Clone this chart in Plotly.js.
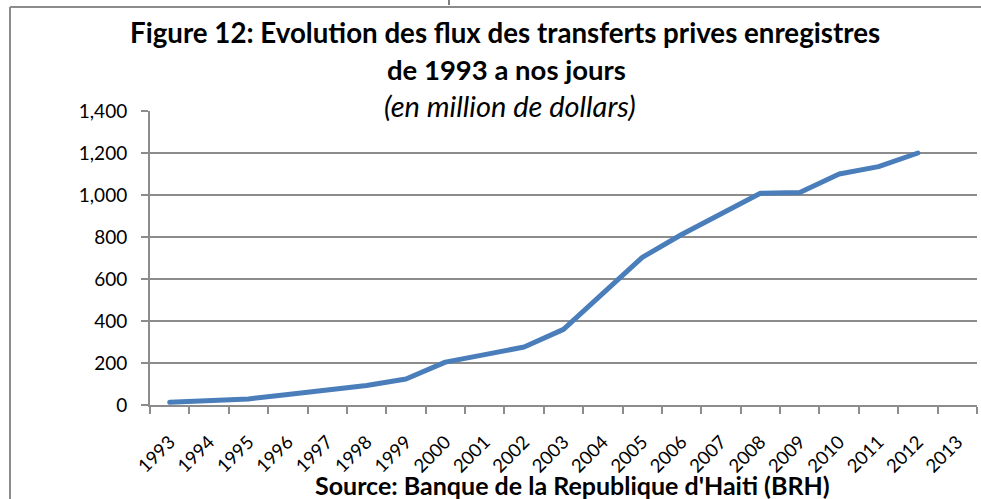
<!DOCTYPE html>
<html><head><meta charset="utf-8">
<script src="https://cdn.plot.ly/plotly-3.0.1.min.js"></script>
<style>html,body{margin:0;padding:0;background:#fff}#chart{width:981px;height:499px}
#chart path.js-line{stroke-linecap:round;stroke-linejoin:round}</style>
</head><body><div id="chart"></div>
<script>
const years = ['1993','1994','1995','1996','1997','1998','1999','2000','2001','2002','2003','2004','2005','2006','2007','2008','2009','2010','2011','2012','2013'];
const flows = [13,19,29,50,70,93,124,204,240,276,360,530,703,812,912,1008,1012,1100,1135,1200,null];
const yTicks = [0,200,400,600,800,1000,1200,1400];

const W=981,H=499,L=150,R=4,T=111,B=94;
const pw=W-L-R, ph=H-T-B;
const px=p=>(p-L)/pw, py=q=>(H-B-q)/ph;
const grey='#8c8c8c';
const fam='Lato, "Open Sans", sans-serif';

const trace={x:years,y:flows,type:'scatter',mode:'lines',
  line:{color:'#4a7ebb',width:5},connectgaps:false,hoverinfo:'x+y'};

const layout={width:W,height:H,margin:{l:L,r:R,t:T,b:B},
  paper_bgcolor:'#fff',plot_bgcolor:'#fff',showlegend:false,
  font:{family:fam,color:'#000'},
  xaxis:{type:'category',categoryorder:'array',categoryarray:years,range:[-0.5,20.5],
    tickson:'boundaries',ticks:'outside',ticklen:7,tickcolor:grey,tickwidth:2,
    showline:true,linecolor:grey,linewidth:2,showgrid:false,zeroline:false,
    tickangle:-45,ticklabelstandoff:17,tickfont:{size:18.5,family:fam}},
  yaxis:{range:[0,1400],tickvals:yTicks,tickformat:',',ticks:'outside',ticklen:7,
    tickcolor:grey,tickwidth:2,showline:true,linecolor:grey,linewidth:2,
    showgrid:true,gridcolor:grey,gridwidth:2,zeroline:false,ticklabelstandoff:10,
    tickfont:{size:19,family:fam}},
  annotations:[
    {text:'<b>Figure 12: Evolution des flux des transferts prives enregistres</b>',xref:'paper',yref:'paper',x:px(505),y:py(33),xanchor:'center',yanchor:'middle',showarrow:false,font:{size:27.7,family:fam}},
    {text:'<b>de 1993 a nos jours</b>',xref:'paper',yref:'paper',x:px(506),y:py(70),xanchor:'center',yanchor:'middle',showarrow:false,font:{size:27.5,family:fam}},
    {text:'<i>(en million de dollars)</i>',xref:'paper',yref:'paper',x:px(510),y:py(105),xanchor:'center',yanchor:'middle',showarrow:false,font:{size:29,family:fam}},
    {text:"<b>Source: Banque de la Republique d'Haiti (BRH)</b>",xref:'paper',yref:'paper',x:px(572),y:py(485),xanchor:'center',yanchor:'middle',showarrow:false,font:{size:25,family:fam}}
  ],
  shapes:[
    {type:'line',xref:'paper',yref:'paper',x0:px(10),x1:px(10),y0:py(7),y1:py(510),line:{color:grey,width:2}},
    {type:'line',xref:'paper',yref:'paper',x0:px(10),x1:px(990),y0:py(7),y1:py(7),line:{color:grey,width:2}},
    {type:'line',xref:'paper',yref:'paper',x0:px(449),x1:px(449),y0:py(0),y1:py(5),line:{color:'#000',width:1}}
  ]
};
Plotly.newPlot('chart',[trace],layout,{displayModeBar:false,staticPlot:true});
</script></body></html>
